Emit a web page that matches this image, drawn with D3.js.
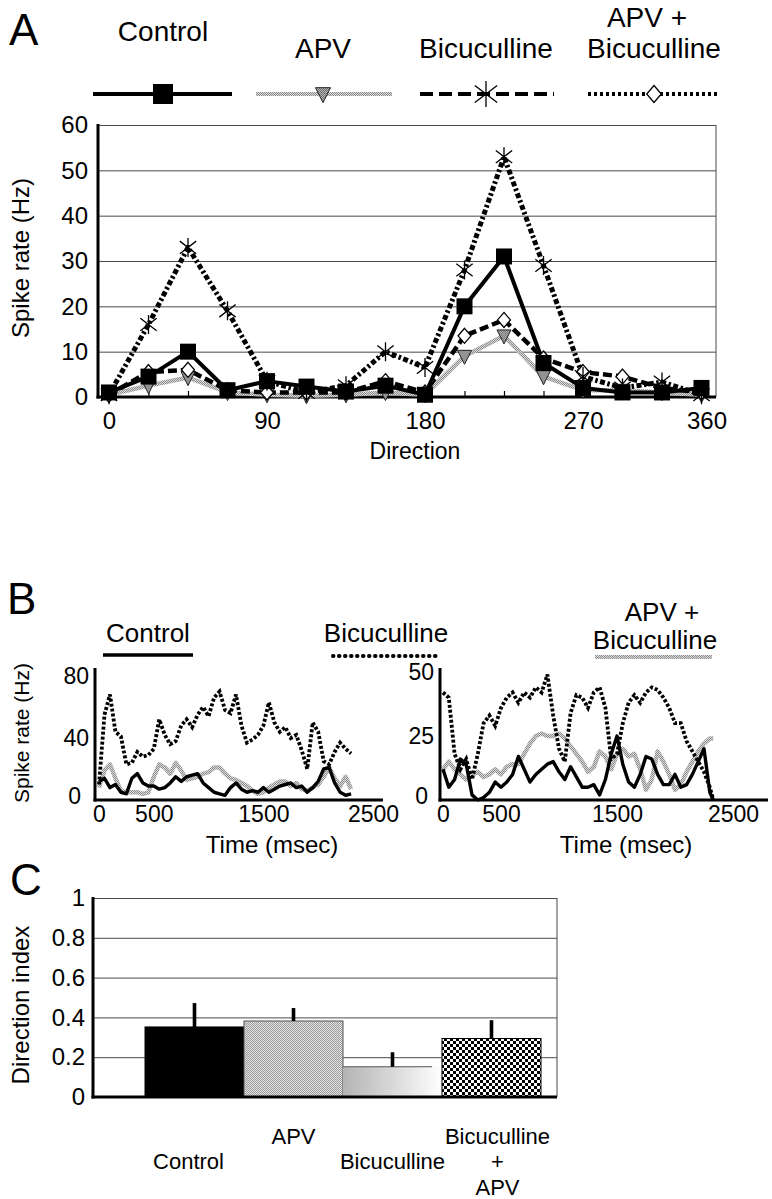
<!DOCTYPE html>
<html><head><meta charset="utf-8">
<script src="https://cdn.jsdelivr.net/npm/d3@7"></script>
<style>
html,body{margin:0;padding:0;background:#fff;}
svg{display:block;}
text{font-family:"Liberation Sans", Arial, Helvetica, sans-serif; fill:#000;}
</style></head><body>
<svg id="chart" width="772" height="1199"></svg>
<script>
// ================= DATA =================
// Panel A: direction tuning
const directions = [0,22.5,45,67.5,90,112.5,135,157.5,180,202.5,225,247.5,270,292.5,315,337.5];
const rateControl = [1,4.5,10,1.5,3.5,2.3,1.2,2.5,0.5,20,31,7.5,2,1,1,2];
const rateAPV     = [0.5,2.5,4.3,1,0.5,0.3,0.5,1,0.5,9,13.5,4.5,1.5,1.5,1,0.5];
const rateBic     = [0.5,16,33,19,3.5,1,2.5,10,6.5,28,53,29,4.5,2,3.3,0.5];
const rateAPVBic  = [0.5,5.5,6,1.5,1,1,1,3.5,1,13.5,17,8.5,5.5,4.5,2,1];
const directionTicks = [0,90,180,270,360];
const spikeTicksA = [0,10,20,30,40,50,60];

// Panel B: spike-rate time courses
const timeLeft  = [0,50,100,150,200,250,300,350,400,450,500,550,600,650,700,750,800,850,900,950,1000,1050,1100,1150,1200,1250,1300,1350,1400,1450,1500,1550,1600,1650,1700,1750,1800,1850,1900,1950,2000,2050,2100,2150,2200,2250,2300];
const leftControl = [12,14,8,10,5,4,14,17,11,9,9,7,8,11,15,12,15,16,17,11,8,5,4,3,8,11,7,5,6,5,8,5,7,9,10,11,8,9,5,8,12,20,21,11,5,3,4];
const leftBic     = [10,55,68,44,41,23,24,31,28,29,33,52,42,36,38,48,52,47,55,60,54,66,70,58,56,68,48,37,39,42,48,63,50,44,47,40,42,32,20,50,44,25,23,31,37,33,30];
const leftAPVBic  = [8,19,23,14,6,5,5,5,4,5,15,23,21,17,24,19,13,14,15,17,18,21,21,17,14,13,11,9,6,4,5,8,10,12,12,9,11,7,6,8,10,15,21,14,9,15,7];
const timeRight = [0,50,100,150,200,250,300,350,400,450,500,550,600,650,700,750,800,850,900,950,1000,1050,1100,1150,1200,1250,1300,1350,1400,1450,1500,1550,1600,1650,1700,1750,1800,1850,1900,1950,2000,2050,2100,2150,2200,2250,2300,2330];
const rightControl = [12,5,8,16,14,2,0,1,3,7,5,7,10,17,12,7,10,12,14,15,11,8,13,9,5,5,6,2,8,18,25,14,7,5,10,17,16,10,6,6,10,5,6,10,15,20,3,0];
const rightBic     = [42,40,18,12,16,8,18,30,33,29,36,40,42,38,42,40,44,42,49,33,20,15,34,41,40,36,42,44,36,16,18,30,38,41,38,42,44,43,40,36,30,30,23,19,15,11,5,0];
const rightAPVBic  = [12,15,12,10,8,10,11,9,10,12,10,13,14,14,18,22,25,26,25,25,26,24,21,18,15,11,13,19,17,12,18,20,17,18,12,4,8,19,15,10,4,6,11,15,19,22,24,24];
const timeTicks = [0,500,1500,2500];
const leftRateTicks = [0,40,80];
const rightRateTicks = [0,25,50];

// Panel C: direction index
const indexCategories = ["Control","APV","Bicuculline","Bicuculline + APV"];
const indexLabelLines = [["Control"],["APV"],["Bicuculline"],["Bicuculline","+","APV"]];
const indexValues = [0.352,0.382,0.152,0.294];
const indexErrors = [0.12,0.065,0.073,0.092];
const indexTicks = [0,0.2,0.4,0.6,0.8,1];

// ================= HELPERS =================
const svg = d3.select("#chart");
function txt(g, x, y, s, size, anchor) {
  return g.append("text").attr("x", x).attr("y", y)
    .attr("text-anchor", anchor || "middle").attr("font-size", size).text(s);
}
function vtxt(g, x, y, s, size) {
  return g.append("text").attr("transform", `translate(${x},${y}) rotate(-90)`)
    .attr("text-anchor", "middle").attr("font-size", size).text(s);
}
function axisText(g, size, extra) {
  g.attr("font-family", null).attr("font-size", size);
  if (extra) g.selectAll(".tick text").each(function(d) {
    const t = d3.select(this), off = extra(d);
    t.attr("x", +(t.attr("x") || 0) + off[0]).attr("y", +(t.attr("y") || 0) + off[1]);
  });
}
function hline(g, x1, x2, y, stroke, w, dash, cap) {
  const l = g.append("line").attr("x1", x1).attr("x2", x2).attr("y1", y).attr("y2", y)
    .attr("stroke", stroke).attr("stroke-width", w);
  if (dash) l.attr("stroke-dasharray", dash);
  if (cap) l.attr("stroke-linecap", cap);
  return l;
}
function vline(g, x, y1, y2, stroke, w) {
  return g.append("line").attr("x1", x).attr("x2", x).attr("y1", y1).attr("y2", y2)
    .attr("stroke", stroke).attr("stroke-width", w);
}

// patterns
const defs = svg.append("defs");
function stipple(id, light, dark) {
  const p = defs.append("pattern").attr("id", id).attr("width", 2).attr("height", 2)
    .attr("patternUnits", "userSpaceOnUse");
  p.append("rect").attr("width", 2).attr("height", 2).attr("fill", light);
  p.append("rect").attr("width", 1).attr("height", 1).attr("fill", dark);
  p.append("rect").attr("x", 1).attr("y", 1).attr("width", 1).attr("height", 1).attr("fill", dark);
}
stipple("stipLine", "#dcdcdc", "#8c8c8c");
stipple("stipBar", "#e4e4e4", "#9a9a9a");
stipple("stipTri", "#bbbbbb", "#6a6a6a");
const chk = defs.append("pattern").attr("id", "checker").attr("width", 6).attr("height", 6)
  .attr("patternUnits", "userSpaceOnUse");
chk.append("rect").attr("width", 6).attr("height", 6).attr("fill", "#fff");
chk.append("rect").attr("width", 3).attr("height", 3).attr("fill", "#000");
chk.append("rect").attr("x", 3).attr("y", 3).attr("width", 3).attr("height", 3).attr("fill", "#000");
const grad = defs.append("linearGradient").attr("id", "fade").attr("x1", "0").attr("x2", "1").attr("y1", "0").attr("y2", "0");
grad.append("stop").attr("offset", "0").attr("stop-color", "#b4b4b4");
grad.append("stop").attr("offset", "0.55").attr("stop-color", "#dcdcdc");
grad.append("stop").attr("offset", "1").attr("stop-color", "#ffffff");

const MARK = {
  square: s => `M${-s/2},${-s/2}h${s}v${s}h${-s}Z`,
  tri: s => `M${-s/2},${-s*0.42}L${s/2},${-s*0.42}L0,${s*0.58}Z`,
  diamond: s => `M0,${-s/2}L${s*0.43},0L0,${s/2}L${-s*0.43},0Z`,
  star: s => `M0,${-s/2}V${s/2}M${-s*0.43},${-s*0.33}L${s*0.43},${s*0.33}M${-s*0.43},${s*0.33}L${s*0.43},${-s*0.33}`
};
const MSTYLE = {
  square: {fill: "#000", stroke: "none", sw: 0},
  tri: {fill: "url(#stipTri)", stroke: "#222", sw: 1},
  diamond: {fill: "#fff", stroke: "#000", sw: 1.3},
  star: {fill: "none", stroke: "#000", sw: 1.3}
};

// ================= PANEL A =================
const A = {left: 98, right: 716, top: 125, bottom: 397};
const xA = d3.scaleLinear().domain([0, 337.5]).range([109, 701.5]);
const yA = d3.scaleLinear().domain([0, 60]).range([A.bottom, A.top]);
const gA = svg.append("g");

txt(gA, 9, 45, "A", 44, "start");

gA.append("g").attr("transform", `translate(${A.left},0)`)
  .call(d3.axisLeft(yA).tickValues(spikeTicksA.filter(v => v > 0)).tickSize(-(A.right - A.left)).tickFormat(""))
  .call(g => g.select(".domain").remove())
  .call(g => g.selectAll(".tick line").attr("stroke", "#4a4a4a").attr("stroke-width", 1));
vline(gA, A.right, A.top, A.bottom, "#4a4a4a", 1);
const yAax = gA.append("g").attr("transform", `translate(${A.left},0)`)
  .call(d3.axisLeft(yA).tickValues(spikeTicksA).tickSize(0).tickPadding(10))
  .call(g => g.select(".domain").remove());
axisText(yAax, 24);
gA.append("g").attr("transform", `translate(0,${A.bottom})`)
  .call(d3.axisBottom(xA).tickValues(directions).tickSize(-6).tickFormat(""))
  .call(g => g.select(".domain").remove())
  .call(g => g.selectAll(".tick line").attr("stroke", "#000").attr("stroke-width", 1.2));
const xAlab = xA.copy().clamp(true);
const xAax = gA.append("g").attr("transform", `translate(0,${A.bottom})`)
  .call(d3.axisBottom(xAlab).tickValues(directionTicks).tickSize(0).tickPadding(15).tickFormat(d3.format("d")))
  .call(g => g.select(".domain").remove());
axisText(xAax, 24, d => d > 337.5 ? [5, 0] : [0, 0]);
vline(gA, A.left, A.top - 1, A.bottom + 1.5, "#000", 3);
hline(gA, A.left - 1.5, A.right, A.bottom, "#000", 3);

vtxt(gA, 29, 258, "Spike rate (Hz)", 24);
txt(gA, 415, 459, "Direction", 23);

const seriesA = [
  {vals: rateAPV, stroke: "url(#stipLine)", w: 4.5, dash: null, mk: "tri", ms: 14},
  {vals: rateAPVBic, stroke: "#000", w: 4.5, dash: "9,4", mk: "diamond", ms: 15},
  {vals: rateControl, stroke: "#000", w: 4, dash: null, mk: "square", ms: 16},
  {vals: rateBic, stroke: "#000", w: 5, dash: "5,2.5,2.5,2.5", mk: "star", ms: 19}
];
const lineA = d3.line().x((d, i) => xA(directions[i])).y(d => yA(d));
seriesA.forEach(s => {
  const p = gA.append("path").datum(s.vals).attr("d", lineA).attr("fill", "none")
    .attr("stroke", s.stroke).attr("stroke-width", s.w).attr("stroke-linejoin", "round");
  if (s.dash) p.attr("stroke-dasharray", s.dash);
});
seriesA.forEach(s => {
  const st = MSTYLE[s.mk];
  gA.append("g").selectAll("path").data(s.vals).join("path")
    .attr("transform", (d, i) => `translate(${xA(directions[i])},${yA(d)})`)
    .attr("d", MARK[s.mk](s.ms)).attr("fill", st.fill).attr("stroke", st.stroke).attr("stroke-width", st.sw);
});

// legend A
const legA = gA.append("g");
const legAcfg = [
  {cx: 163, x1: 93, x2: 232, stroke: "#000", w: 4, dash: null, mk: "square", ms: 20, lines: ["Control"], base: 41},
  {cx: 323, x1: 256, x2: 392, stroke: "url(#stipLine)", w: 4, dash: null, mk: "tri", ms: 15, lines: ["APV"], base: 58},
  {cx: 486, x1: 420, x2: 554, stroke: "#000", w: 4, dash: "13,6", mk: "star", ms: 26, lines: ["Bicuculline"], base: 58},
  {cx: 654, x1: 588, x2: 720, stroke: "#000", w: 4, dash: "3,3", mk: "diamond", ms: 17, lines: ["APV +", "Bicuculline"], base: 58}
];
legAcfg.forEach(c => {
  hline(legA, c.x1, c.x2, 94, c.stroke, c.w, c.dash);
  const st = MSTYLE[c.mk];
  legA.append("path").attr("transform", `translate(${c.cx},94)`).attr("d", MARK[c.mk](c.ms))
    .attr("fill", st.fill).attr("stroke", st.stroke).attr("stroke-width", st.sw);
  const n = c.lines.length;
  c.lines.forEach((t, j) => txt(legA, c.cx + (j === 0 && n > 1 ? -7 : 0), c.base - (n - 1 - j) * 31, t, 28));
});

// ================= PANEL B =================
const gB = svg.append("g");
txt(gB, 7, 614, "B", 44, "start");
hline(gB, 103, 193, 655, "#000", 3.5);
hline(gB, 333, 437, 656, "#000", 4, "0.5,5.5", "round");
hline(gB, 595, 712, 657, "url(#stipLine)", 4);
txt(gB, 148, 642, "Control", 26);
txt(gB, 386, 642, "Bicuculline", 26);
txt(gB, 662, 621, "APV +", 26);
txt(gB, 655, 649, "Bicuculline", 26);

function tracePanel(cfg) {
  const g = gB.append("g");
  const x = d3.scaleLinear().domain([0, 2500]).range([cfg.x0, cfg.x2500]);
  const y = d3.scaleLinear().domain([0, cfg.ymax]).range([cfg.bottom, cfg.ytop]);
  const ln = d3.line().x((d, i) => x(cfg.time[i])).y(d => y(d));
  g.append("path").datum(cfg.apvbic).attr("d", ln).attr("fill", "none")
    .attr("stroke", "url(#stipLine)").attr("stroke-width", 4.5).attr("stroke-linejoin", "round");
  g.append("path").datum(cfg.control).attr("d", ln).attr("fill", "none")
    .attr("stroke", "#000").attr("stroke-width", 3.4).attr("stroke-linejoin", "round");
  g.append("path").datum(cfg.bic).attr("d", ln).attr("fill", "none")
    .attr("stroke", "#000").attr("stroke-width", 3.8).attr("stroke-dasharray", "3,2");
  const yax = g.append("g").attr("transform", `translate(${cfg.left},0)`)
    .call(d3.axisLeft(y).tickValues(cfg.yticks).tickSize(0).tickPadding(cfg.ypad))
    .call(gg => gg.select(".domain").remove());
  axisText(yax, 23, d => d === 0 ? [cfg.zeroShift, -4] : [0, 0]);
  const xax = g.append("g").attr("transform", `translate(0,${cfg.bottom})`)
    .call(d3.axisBottom(x).tickValues(timeTicks).tickSize(0).tickPadding(6).tickFormat(d3.format("d")))
    .call(gg => gg.select(".domain").remove());
  axisText(xax, 23);
  vline(g, cfg.left, cfg.top, cfg.bottom + 1.5, "#000", 3);
  hline(g, cfg.left - 1.5, cfg.right, cfg.bottom, "#000", 3);
  txt(g, cfg.titleX, 853, "Time (msec)", 24);
}
tracePanel({left: 95, right: 383, top: 668, ytop: 676, bottom: 800, x0: 99, x2500: 373, ymax: 80,
  time: timeLeft, control: leftControl, bic: leftBic, apvbic: leftAPVBic,
  yticks: leftRateTicks, ypad: 6, zeroShift: -8, titleX: 272});
tracePanel({left: 440, right: 768, top: 668, ytop: 672, bottom: 800, x0: 443, x2500: 733, ymax: 50,
  time: timeRight, control: rightControl, bic: rightBic, apvbic: rightAPVBic,
  yticks: rightRateTicks, ypad: 6, zeroShift: -6, titleX: 626});
vtxt(gB, 29, 733, "Spike rate (Hz)", 21);

// ================= PANEL C =================
const C = {left: 93, right: 557, top: 898, bottom: 1097};
const gC = svg.append("g");
txt(gC, 10, 895, "C", 44, "start");
const xC = d3.scaleBand().domain(indexCategories).range([145, 541]).paddingInner(0).paddingOuter(0);
const yC = d3.scaleLinear().domain([0, 1]).range([C.bottom, C.top]);
gC.append("g").attr("transform", `translate(${C.left},0)`)
  .call(d3.axisLeft(yC).tickValues(indexTicks.filter(v => v > 0)).tickSize(-(C.right - C.left)).tickFormat(""))
  .call(g => g.select(".domain").remove())
  .call(g => g.selectAll(".tick line").attr("stroke", "#4a4a4a").attr("stroke-width", 1));
vline(gC, C.right, C.top, C.bottom, "#4a4a4a", 1);
const yCax = gC.append("g").attr("transform", `translate(${C.left},0)`)
  .call(d3.axisLeft(yC).tickValues(indexTicks).tickSize(0).tickPadding(8).tickFormat(d => String(d)))
  .call(g => g.select(".domain").remove());
axisText(yCax, 24);

const barFill = ["#000", "url(#stipBar)", "url(#fade)", "url(#checker)"];
const barStroke = ["#000", "#555", "none", "#000"];
gC.append("g").selectAll("rect").data(indexValues).join("rect")
  .attr("x", (d, i) => xC(indexCategories[i])).attr("width", xC.bandwidth())
  .attr("y", d => yC(d)).attr("height", d => yC(0) - yC(d))
  .attr("fill", (d, i) => barFill[i]).attr("stroke", (d, i) => barStroke[i]).attr("stroke-width", 1);
gC.append("g").selectAll("line").data(indexValues.filter((d, i) => i === 2)).join("line")
  .attr("x1", xC(indexCategories[2])).attr("x2", xC(indexCategories[2]) + xC.bandwidth() * 0.9)
  .attr("y1", d => yC(d)).attr("y2", d => yC(d)).attr("stroke", "#555").attr("stroke-width", 1);
gC.append("g").selectAll("rect").data(indexValues).join("rect")
  .attr("x", (d, i) => xC(indexCategories[i]) + xC.bandwidth() / 2 - 1.8).attr("width", 3.6)
  .attr("y", (d, i) => yC(d + indexErrors[i])).attr("height", (d, i) => yC(d) - yC(d + indexErrors[i]))
  .attr("fill", "#000");
vline(gC, C.left, C.top - 1, C.bottom + 1.5, "#000", 3);
hline(gC, C.left - 1.5, C.right, C.bottom, "#000", 3);
vtxt(gC, 29, 1005, "Direction index", 24);
const rowBase = [1144, 1169, 1195];
indexLabelLines.forEach((lines, i) => {
  const cx = xC(indexCategories[i]) + xC.bandwidth() / 2 + (lines.length > 1 ? 6 : (i === 0 ? -6 : 0));
  const start = (i % 2 === 0 && lines.length === 1) ? 1 : 0;
  lines.forEach((t, j) => txt(gC, cx, rowBase[start + j], t, 22));
});
</script>
</body></html>
